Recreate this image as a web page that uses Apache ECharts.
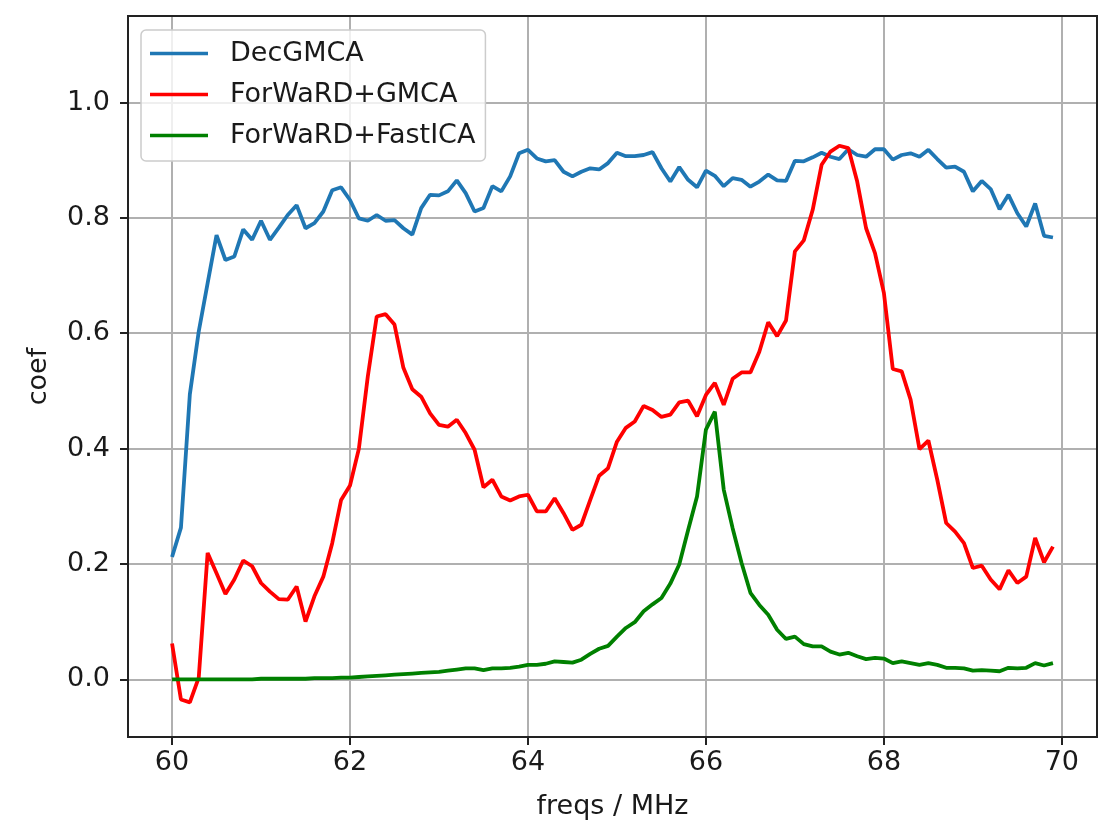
<!DOCTYPE html>
<html>
<head>
<meta charset="utf-8">
<script src="https://cdn.jsdelivr.net/npm/echarts@6/dist/echarts.min.js"></script>
<style>
html,body{margin:0;padding:0;background:#fff;}
#chart{width:1107px;height:829px;}
</style>
</head>
<body>
<div id="chart"></div>
<script>
const freqs = [
  60.0,60.1,60.2,60.3,60.4,60.5,60.6,60.7,60.8,60.9,
  61.0,61.1,61.2,61.3,61.4,61.5,61.6,61.7,61.8,61.9,
  62.0,62.1,62.2,62.3,62.4,62.5,62.6,62.7,62.8,62.9,
  63.0,63.1,63.2,63.3,63.4,63.5,63.6,63.7,63.8,63.9,
  64.0,64.1,64.2,64.3,64.4,64.5,64.6,64.7,64.8,64.9,
  65.0,65.1,65.2,65.3,65.4,65.5,65.6,65.7,65.8,65.9,
  66.0,66.1,66.2,66.3,66.4,66.5,66.6,66.7,66.8,66.9,
  67.0,67.1,67.2,67.3,67.4,67.5,67.6,67.7,67.8,67.9,
  68.0,68.1,68.2,68.3,68.4,68.5,68.6,68.7,68.8,68.9,
  69.0,69.1,69.2,69.3,69.4,69.5,69.6,69.7,69.8,69.9
];

const decGMCA = [
  0.212,0.263,0.494,0.603,0.687,0.770,0.727,0.733,0.780,0.762,
  0.795,0.762,0.783,0.805,0.822,0.782,0.791,0.811,0.848,0.853,
  0.831,0.799,0.795,0.805,0.795,0.796,0.782,0.771,0.817,0.840,
  0.839,0.846,0.865,0.843,0.811,0.817,0.855,0.846,0.872,0.912,
  0.918,0.903,0.898,0.900,0.880,0.872,0.880,0.886,0.884,0.895,
  0.913,0.907,0.907,0.909,0.914,0.886,0.863,0.888,0.866,0.853,
  0.882,0.873,0.855,0.869,0.866,0.854,0.863,0.875,0.865,0.864,
  0.899,0.898,0.905,0.913,0.906,0.902,0.919,0.909,0.906,0.919,
  0.919,0.901,0.909,0.912,0.906,0.918,0.902,0.887,0.889,0.880,
  0.846,0.864,0.850,0.815,0.840,0.808,0.785,0.825,0.769,0.766
];

const forwardGMCA = [
  0.062,-0.035,-0.040,0.003,0.219,0.184,0.148,0.173,0.206,0.196,
  0.167,0.152,0.139,0.138,0.161,0.100,0.144,0.178,0.236,0.311,
  0.336,0.400,0.525,0.629,0.633,0.615,0.540,0.503,0.490,0.461,
  0.441,0.438,0.450,0.427,0.398,0.333,0.346,0.317,0.310,0.317,
  0.320,0.291,0.291,0.314,0.288,0.259,0.268,0.311,0.353,0.366,
  0.412,0.436,0.447,0.474,0.467,0.455,0.459,0.480,0.483,0.456,
  0.493,0.514,0.476,0.521,0.532,0.532,0.568,0.619,0.595,0.622,
  0.742,0.761,0.814,0.892,0.915,0.925,0.921,0.863,0.782,0.739,
  0.670,0.538,0.534,0.485,0.399,0.414,0.346,0.271,0.256,0.236,
  0.193,0.197,0.173,0.156,0.189,0.167,0.178,0.245,0.203,0.230
];

const forwardFastICA = [
  0.000,0.000,0.000,0.000,0.000,0.000,0.000,0.000,0.000,0.000,
  0.001,0.001,0.001,0.001,0.001,0.001,0.002,0.002,0.002,0.003,
  0.003,0.004,0.005,0.006,0.007,0.008,0.009,0.010,0.011,0.012,
  0.013,0.015,0.017,0.019,0.019,0.016,0.019,0.019,0.020,0.022,
  0.025,0.025,0.027,0.031,0.030,0.029,0.034,0.044,0.053,0.058,
  0.074,0.089,0.099,0.118,0.130,0.141,0.166,0.199,0.259,0.317,
  0.433,0.464,0.329,0.262,0.202,0.150,0.129,0.112,0.086,0.070,
  0.074,0.061,0.057,0.057,0.048,0.043,0.046,0.040,0.035,0.037,
  0.036,0.028,0.031,0.028,0.025,0.028,0.025,0.020,0.020,0.019,
  0.015,0.016,0.015,0.014,0.020,0.019,0.020,0.028,0.024,0.028
];

const seriesNames = ['DecGMCA','ForWaRD+GMCA','ForWaRD+FastICA'];
const xTicks = [60,62,64,66,68,70];
const yTicks = [0.0,0.2,0.4,0.6,0.8,1.0];

const colors = ['#1f77b4','#ff0000','#008000'];
const FONT = 'DejaVu Sans';
const TXT = '#1a1a1a';
const FS = 27;

function pairs(ys){ return freqs.map((f,i)=>[f, ys[i]]); }

const chart = echarts.init(document.getElementById('chart'), null, {renderer:'canvas'});
chart.setOption({
  animation:false,
  backgroundColor:'#fff',
  textStyle:{fontFamily:FONT},
  grid:{left:128,right:10,top:16,bottom:92,show:true,borderColor:'#222',borderWidth:2,backgroundColor:'transparent',z:3},
  legend:{
    orient:'vertical',
    left:141, top:30,
    padding:[10,10,12,9],
    icon:'rect',
    itemWidth:58, itemHeight:3.6, itemGap:14,
    backgroundColor:'rgba(255,255,255,0.8)',
    borderColor:'#cccccc', borderWidth:1.5, borderRadius:5,
    textStyle:{fontFamily:FONT,fontSize:FS,lineHeight:27,color:TXT,padding:[0,0,0,17]},
    data:seriesNames
  },
  xAxis:{
    type:'value', min:59.505, max:70.395,
    name:'freqs / MHz', nameLocation:'middle', nameGap:56,
    nameTextStyle:{fontFamily:FONT,fontSize:FS,color:TXT},
    axisLine:{show:true,onZero:false,lineStyle:{color:'#222',width:2}},
    axisTick:{show:true,length:8,inside:false,customValues:xTicks,lineStyle:{color:'#222',width:2}},
    axisLabel:{customValues:xTicks,fontFamily:FONT,fontSize:FS,color:TXT,margin:12,formatter:v=>String(Math.round(v))},
    splitLine:{show:true,lineStyle:{color:'#b0b0b0',width:2}}
  },
  yAxis:{
    type:'value', min:-0.1, max:1.15,
    name:'coef', nameLocation:'middle', nameGap:76,
    nameTextStyle:{fontFamily:FONT,fontSize:FS,color:TXT},
    axisLine:{show:true,onZero:false,lineStyle:{color:'#222',width:2}},
    axisTick:{show:true,length:8,inside:false,customValues:yTicks,lineStyle:{color:'#222',width:2}},
    axisLabel:{customValues:yTicks,fontFamily:FONT,fontSize:FS,color:TXT,margin:18,formatter:v=>v.toFixed(1)},
    splitLine:{show:true,lineStyle:{color:'#b0b0b0',width:2}}
  },
  series:[
    {name:seriesNames[0],type:'line',data:pairs(decGMCA),symbol:'none',lineStyle:{color:colors[0],width:3.8},itemStyle:{color:colors[0]},z:5},
    {name:seriesNames[1],type:'line',data:pairs(forwardGMCA),symbol:'none',lineStyle:{color:colors[1],width:3.8},itemStyle:{color:colors[1]},z:5},
    {name:seriesNames[2],type:'line',data:pairs(forwardFastICA),symbol:'none',lineStyle:{color:colors[2],width:3.8},itemStyle:{color:colors[2]},z:5}
  ]
});
</script>
</body>
</html>
